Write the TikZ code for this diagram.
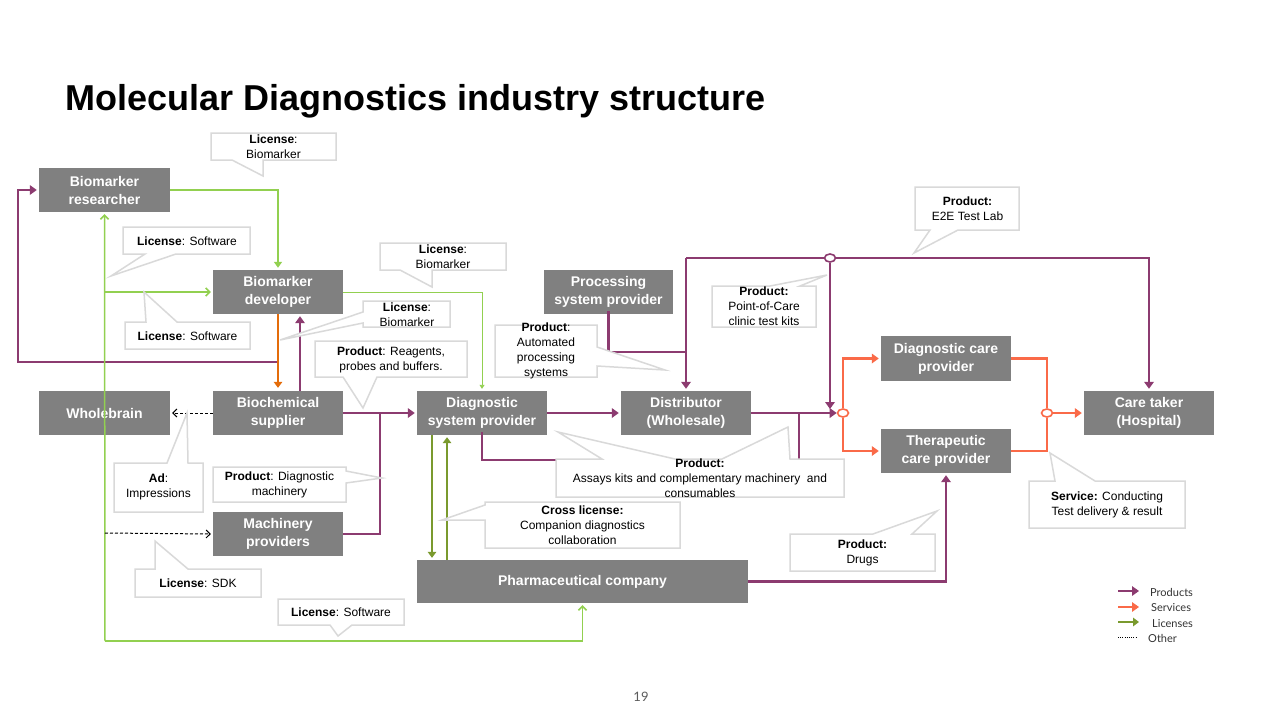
\documentclass[tikz,border=0pt]{standalone}
\usepackage{fontspec}
\setmainfont{Liberation Sans}
\newfontfamily\legfont{Lato}
\usetikzlibrary{arrows.meta,shapes.geometric}
\definecolor{boxgray}{HTML}{808080}
\definecolor{prodc}{HTML}{8C3B70}
\definecolor{servc}{HTML}{FA6A48}
\definecolor{licc}{HTML}{92D050}
\definecolor{olivec}{HTML}{7A9A2E}
\definecolor{devorange}{HTML}{E46C0A}
\definecolor{callc}{HTML}{D9D9D9}
\definecolor{legtext}{HTML}{333333}
\tikzset{
  box/.style={fill=boxgray, text=white, font=\fontsize{14}{18}\selectfont\bfseries, align=center, inner sep=0pt, minimum width=130pt, minimum height=44pt},
  prod/.style={draw=prodc, line width=2.2pt, -{Triangle[length=7pt,width=9.5pt]}, shorten >=2pt},
  prodl/.style={draw=prodc, line width=2.2pt},
  serv/.style={draw=servc, line width=2.2pt, -{Triangle[length=7pt,width=9.5pt]}, shorten >=2pt},
  servl/.style={draw=servc, line width=2.2pt},
  licbarb/.style={draw=licc, line width=1.5pt, -{Straight Barb[length=4pt,width=8pt]}, shorten >=2pt},
  lictri/.style={draw=licc, line width=1.5pt, -{Triangle[length=6pt,width=8pt]}, shorten >=2pt},
  licthin/.style={draw=licc, line width=0.9pt, -{Triangle[length=4pt,width=5pt]}, shorten >=2pt},
  olv/.style={draw=olivec, line width=1.8pt, -{Triangle[length=6pt,width=8.5pt]}, shorten >=2pt},
  oth/.style={draw=black, line width=1pt, dash pattern=on 3pt off 2pt, -{Straight Barb[length=4pt,width=8pt]}, shorten >=2pt},
  devl/.style={draw=devorange, line width=2pt, -{Triangle[length=6pt,width=8.5pt]}, shorten >=3pt},
  callout/.style={draw=callc, line width=1.5pt, fill=white, line join=miter},
  ctext/.style={font=\fontsize{12}{15}\selectfont, align=center, inner sep=0pt},
  junc/.style={ellipse, draw, fill=white, line width=1.6pt, minimum width=11pt, minimum height=8pt, inner sep=0pt},
  legl/.style={font=\legfont\fontsize{11}{13}\selectfont, text=legtext, anchor=west, inner sep=0pt}
}
\begin{document}
\begin{tikzpicture}[x=1pt,y=-1pt]
\useasboundingbox[fill=white] (0,0) rectangle (1280,720);

% title
\node[anchor=base west, font=\fontsize{36}{40}\selectfont\bfseries, inner sep=0pt] (title) at (65,110) {Molecular Diagnostics industry structure};

% boxes
\node[box, minimum width=131pt] (res) at (104.5,190) {Biomarker\\researcher};
\node[box] (dev) at (278,292) {Biomarker\\developer};
\node[box, minimum width=131pt] (whole) at (104.5,413) {Wholebrain};
\node[box] (bio) at (278,413) {Biochemical\\supplier};
\node[box] (mach) at (278,534) {Machinery\\providers};
\node[box] (dsp) at (482,413) {Diagnostic\\system provider};
\node[box] (dist) at (686,413) {Distributor\\(Wholesale)};
\node[box, minimum width=129pt] (proc) at (608.5,292) {Processing\\system provider};
\node[box, minimum width=331pt, minimum height=43pt] (pharma) at (582.5,581.5) {Pharmaceutical company};
\node[box, minimum height=45pt] (dcp) at (946,358.5) {Diagnostic care\\provider};
\node[box] (tcp) at (946,451) {Therapeutic\\care provider};
\node[box] (care) at (1149,413) {Care taker\\(Hospital)};

% coordinates
\coordinate (loopj) at (278,362);
\coordinate (machj) at (380,413);
\coordinate (topc) at (686,258);
\coordinate (procj) at (686,352);
\coordinate (distj) at (799,413);
\coordinate (gcorner) at (105,641);
\coordinate (gmid) at (105,292);
\coordinate (gdash) at (105,533);

% product lines
\draw[prod] (loopj) -- (18,362) |- (res.west);
\draw[prod] ([xshift=22pt]bio.north) -- ([xshift=22pt]dev.south);
\draw[prod] (bio.east) -- (dsp.west);
\draw[prodl] (mach.east) -| (machj);
\draw[prod] (dsp.east) -- (dist.west);
\draw[prodl] ([yshift=3pt]dsp.south) -- (482,460) -| (distj);
\draw[prodl] ([yshift=3pt]proc.south) |- (procj);
\draw[prod] (topc) -- (dist.north);
\draw[prod] (topc) -| (care.north);
\node[junc, draw=prodc] (jt) at (830,258) {};
\node[junc, draw=servc] (js) at (843,413) {};
\node[junc, draw=servc] (je) at (1047,413) {};
\draw[prod, shorten >=0pt] (jt.south) -- (830,409);
\draw[prod, shorten >=0pt] (dist.east) -- (js.west);
\draw[prod] (pharma.east) -| (tcp.south);

% service lines
\draw[serv] (js.north) |- (dcp.west);
\draw[serv] (js.south) |- (tcp.west);
\draw[servl] (dcp.east) -| (je.north);
\draw[servl] (tcp.east) -| (je.south);
\draw[serv] (je.east) -- (care.west);

% developer -> supplier (orange)
\draw[devl] (dev.south) -- (bio.north);

% license lines
\draw[lictri] (res.east) -| (dev.north);
\draw[licbarb] (gcorner) -- (res.south);
\draw[licbarb] (gmid) -- (dev.west);
\draw[licbarb] (gcorner) -| (pharma.south);
\draw[licthin] (dev.east) -| (dsp.north);
\draw[olv] ([xshift=-50pt]dsp.south) -- ([xshift=-50pt]dsp.south |- pharma.north);
\draw[olv] ([xshift=-35pt]dsp.south |- pharma.north) -- ([xshift=-35pt]dsp.south);

% other (dashed)
\draw[oth] (bio.west) -- (whole.east);
\draw[oth] (gdash) -- (mach.west);

% callouts
\draw[callout] (211,133) -- (336,133) -- (336,160) -- (263,160) -- (263,176) -- (232,160) -- (211,160) -- cycle;
\node[ctext] (c1) at (273.5,146.5) {\textbf{License}:\\Biomarker};

\draw[callout] (123,227) -- (250,227) -- (250,254) -- (176,254) -- (111,276) -- (145,254) -- (123,254) -- cycle;
\node[ctext] (c2) at (187,241) {\textbf{License}: Software};

\draw[callout] (125,322) -- (146,322) -- (144,292) -- (177,322) -- (250,322) -- (250,349) -- (125,349) -- cycle;
\node[ctext] (c3) at (187.5,336) {\textbf{License}: Software};

\draw[callout] (380,243) -- (506,243) -- (506,270) -- (432,270) -- (432,287) -- (400,270) -- (380,270) -- cycle;
\node[ctext] (c4) at (443,257) {\textbf{License}:\\Biomarker};

\draw[callout] (363,301) -- (450,301) -- (450,327) -- (363,327) -- (363,323) -- (280,340) -- (363,312) -- cycle;
\node[ctext] (c5) at (407,314.5) {\textbf{License}:\\Biomarker};

\draw[callout] (315,341) -- (467,341) -- (467,377) -- (377,377) -- (363,408) -- (343,377) -- (315,377) -- cycle;
\node[ctext] (c6) at (391,359.5) {\textbf{Product}: Reagents,\\probes and buffers.};

\draw[callout] (495,325) -- (597,325) -- (597,347) -- (665,370) -- (597,366) -- (597,377) -- (495,377) -- cycle;
\node[ctext] (c7) at (546,351) {\textbf{Product}:\\Automated\\processing\\systems};

\draw[callout] (712,286) -- (770,286) -- (827,275) -- (800,286) -- (816,286) -- (816,327) -- (712,327) -- cycle;
\node[ctext] (c8) at (764,306.5) {\textbf{Product:}\\Point-of-Care\\clinic test kits};

\draw[callout] (915,187) -- (1019,187) -- (1019,230) -- (958,230) -- (914,253) -- (930,230) -- (915,230) -- cycle;
\node[ctext] (c9) at (967.5,209) {\textbf{Product:}\\E2E Test Lab};

\draw[callout] (114,463) -- (167,463) -- (187,413) -- (188,463) -- (203,463) -- (203,512) -- (114,512) -- cycle;
\node[ctext] (c10) at (158.5,487) {\textbf{Ad}:\\Impressions};

\draw[callout] (213,467) -- (346,467) -- (346,471) -- (382,478) -- (346,483) -- (346,502) -- (213,502) -- cycle;
\node[ctext] (c11) at (279.5,484.5) {\textbf{Product}: Diagnostic\\machinery};

\draw[callout] (135,569) -- (155,569) -- (155,541) -- (188,569) -- (261,569) -- (261,597) -- (135,597) -- cycle;
\node[ctext] (c12) at (198,583) {\textbf{License}: SDK};

\draw[callout] (278,599) -- (404,599) -- (404,625) -- (352,625) -- (338,636) -- (330,625) -- (278,625) -- cycle;
\node[ctext] (c13) at (341,612) {\textbf{License}: Software};

\draw[callout] (556,459) -- (602,459) -- (558,432) -- (675,459) -- (722,459) -- (788,427) -- (790,459) -- (844,459) -- (844,497) -- (556,497) -- cycle;
\node[ctext] (c14) at (700,478) {\textbf{Product:}\\Assays kits and complementary machinery\ \ and\\consumables};

\draw[callout] (485,502) -- (680,502) -- (680,548) -- (485,548) -- (485,520) -- (442,520) -- (485,505) -- cycle;
\node[ctext] (c15) at (582.5,525.5) {\textbf{Cross license:}\\Companion diagnostics\\collaboration};

\draw[callout] (790,534) -- (873,534) -- (937,511) -- (912,534) -- (935,534) -- (935,571) -- (790,571) -- cycle;
\node[ctext] (c16) at (862.5,553) {\textbf{Product:}\\Drugs};

\draw[callout] (1029,481) -- (1055,481) -- (1050,453) -- (1095,481) -- (1185,481) -- (1185,528) -- (1029,528) -- cycle;
\node[ctext] (c17) at (1107,504.5) {\textbf{Service:} Conducting\\Test delivery \& result};

% legend
\coordinate (l1a) at (1118,591); \coordinate (l1b) at (1139,591);
\coordinate (l2a) at (1118,607); \coordinate (l2b) at (1139,607);
\coordinate (l3a) at (1118,622); \coordinate (l3b) at (1139,622);
\coordinate (l4a) at (1118,637); \coordinate (l4b) at (1137,637);
\draw[prod, shorten >=0pt, line width=1.5pt] (l1a) -- (l1b);
\draw[serv, shorten >=0pt, line width=1.5pt] (l2a) -- (l2b);
\draw[olv, shorten >=0pt, line width=1.5pt] (l3a) -- (l3b);
\draw[black, line width=0.8pt, dash pattern=on 1pt off 1.2pt] (l4a) -- (l4b);
\node[legl] (lg1) at (1150,592) {Products};
\node[legl] (lg2) at (1151,608) {Services};
\node[legl] (lg3) at (1152,624) {Licenses};
\node[legl] (lg4) at (1148,638) {Other};

% page number
\node[font=\legfont\fontsize{13}{15}\selectfont, text=legtext!80, inner sep=0pt] (pg) at (641,697) {19};
\end{tikzpicture}
\end{document}
